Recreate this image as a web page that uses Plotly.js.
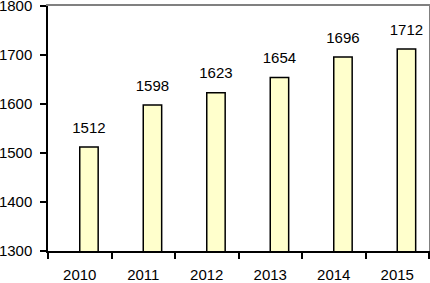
<!DOCTYPE html>
<html><head><meta charset="utf-8">
<script src="https://cdn.plot.ly/plotly-3.0.1.min.js"></script>
<style>html,body{margin:0;padding:0;background:#fff;overflow:hidden}#c{width:430px;height:283px}</style>
</head><body><div id="c"></div>
<script>
const years = ['2010','2011','2012','2013','2014','2015'];
const values = [1512,1598,1623,1654,1696,1712];
const yTicks = [1300,1400,1500,1600,1700,1800];

const FAM = 'Liberation Sans, Arial, sans-serif';
const Y0 = 1300, Y1 = 1800;
// layout-only shifts for value labels: centred on the bar, lifted above its top
const LABEL_LIFT = 37;
const BAR_HALF = 0.145;

const bars = {
  type:'bar', x: years, y: values,
  width: 0.29, offset: 0,
  marker:{color:'#FFFFCC', line:{color:'#000000', width:1.5}},
  hoverinfo:'none'
};
const labels = {
  type:'scatter', mode:'text', x: years, y: values,
  text: values.map(String), textposition:'middle center',
  textfont:{family:FAM, size:15, color:'#000000'},
  xaxis:'x2', yaxis:'y2', hoverinfo:'none', cliponaxis:false
};
const layout = {
  width:430, height:283,
  margin:{l:48, r:1, t:6, b:32, pad:0},
  paper_bgcolor:'#ffffff', plot_bgcolor:'#ffffff',
  showlegend:false,
  font: {family:FAM, color:'#000000'},
  xaxis:{
    type:'category', showgrid:false, zeroline:false,
    showline:true, linecolor:'#000000', linewidth:1.5,
    ticks:'outside', tickson:'boundaries', ticklen:6, tickcolor:'#000000', tickwidth:1.5,
    tickfont: {family:FAM, size:15, color:'#000000'}, ticklabelstandoff: 9,
    range:[-0.5,5.5]
  },
  yaxis:{
    range:[Y0,Y1], tickvals: yTicks, ticktext: yTicks.map(String),
    showgrid:false, zeroline:false,
    showline:true, linecolor:'#000000', linewidth:1.5,
    ticks:'outside', ticklen:6, tickcolor:'#000000', tickwidth:1.5,
    tickfont: {family:FAM, size:15, color:'#000000'}, ticklabeloverflow:'allow',
    ticklabelstandoff: 5
  },
  xaxis2:{
    type:'category', overlaying:'x', side:'top', anchor:'y2',
    range:[-0.5-BAR_HALF, 5.5-BAR_HALF],
    showgrid:false, zeroline:false, showticklabels:false, ticks:'',
    showline:true, linecolor:'#808080', linewidth:1.5
  },
  yaxis2:{
    overlaying:'y', side:'right', anchor:'x2',
    range:[Y0-LABEL_LIFT, Y1-LABEL_LIFT],
    showgrid:false, zeroline:false, showticklabels:false, ticks:'',
    showline:true, linecolor:'#808080', linewidth:1.5
  }
};
Plotly.newPlot('c', [bars, labels], layout, {displayModeBar:false});
</script></body></html>
